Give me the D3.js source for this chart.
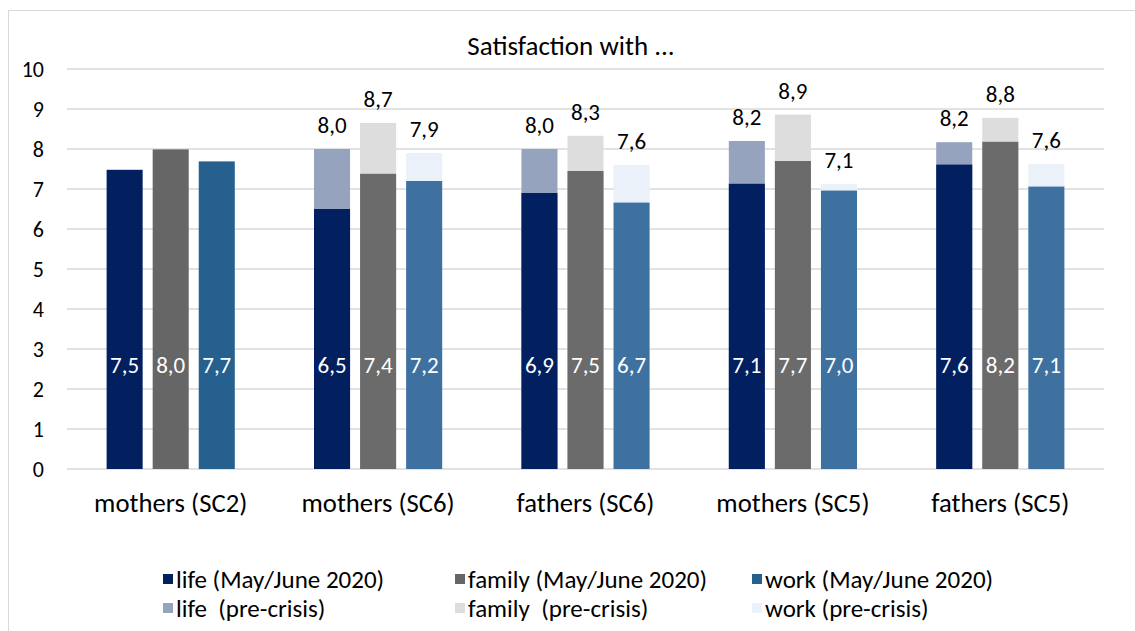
<!DOCTYPE html>
<html>
<head>
<meta charset="utf-8">
<script src="https://cdn.jsdelivr.net/npm/d3@7/dist/d3.min.js"></script>
<style>
  html, body { margin: 0; padding: 0; background: #fff; }
  svg { display: block; }
  text { font-family: Carlito, Calibri, Lato, "Open Sans", sans-serif; white-space: pre; }
</style>
</head>
<body>
<svg id="chart" width="1135" height="631"></svg>
<script>
// ---- data ----
const groups = ["mothers (SC2)", "mothers (SC6)", "fathers (SC6)", "mothers (SC5)", "fathers (SC5)"];
const metrics = ["life", "family", "work"];
const lifeNow   = [7.48, 6.50, 6.90, 7.13, 7.61];
const familyNow = [7.99, 7.38, 7.45, 7.70, 8.18];
const workNow   = [7.69, 7.20, 6.66, 6.96, 7.06];
const lifePre   = [null, 8.00, 8.00, 8.20, 8.17];
const familyPre = [null, 8.65, 8.33, 8.86, 8.78];
const workPre   = [null, 7.90, 7.60, 7.13, 7.63];
const yTicks = [0, 1, 2, 3, 4, 5, 6, 7, 8, 9, 10];
const legendLabels = [
  "life (May/June 2020)", "family (May/June 2020)", "work (May/June 2020)",
  "life  (pre-crisis)", "family  (pre-crisis)", "work (pre-crisis)"
];
const title = "Satisfaction with ...";

// ---- styles ----
const nowColors = { life: "#022060", family: "#6b6b6b", work: "#3e71a0" };
const nowColorsSC2 = { life: "#022060", family: "#666666", work: "#25608f" };
const preColors = { life: "#95a3be", family: "#dddddd", work: "#eaf1f9" };
const legendColors = ["#022060", "#666666", "#25608f", "#95a3be", "#dddddd", "#eaf1f9"];
const FONT = "Carlito, Calibri, Lato, 'Open Sans', sans-serif";

const nowVals = { life: lifeNow, family: familyNow, work: workNow };
const preVals = { life: lifePre, family: familyPre, work: workPre };

const svg = d3.select("#chart");
const fmt = v => d3.format(".1f")(v).replace(".", ",");

// border
svg.append("rect").attr("x", 8.5).attr("y", 10.5).attr("width", 1140).attr("height", 640)
  .attr("fill", "#fff").attr("stroke", "#d9d9d9").attr("stroke-width", 1);

const plotL = 67, plotR = 1104, plotT = 69, plotB = 469;
const y = d3.scaleLinear().domain([0, 10]).range([plotB, plotT]);
const x0 = d3.scaleBand().domain(groups).range([plotL, plotR]).padding(0);
const x1 = d3.scaleBand().domain(metrics).range([0, x0.bandwidth()])
  .paddingInner(10 / 46).paddingOuter(0.86);

// gridlines
svg.append("g").selectAll("line").data(yTicks).join("line")
  .attr("x1", plotL).attr("x2", plotR)
  .attr("y1", d => y(d)).attr("y2", d => y(d))
  .attr("stroke", "#d9d9d9").attr("stroke-width", 1.5);

// y axis labels
const yAxis = d3.axisLeft(y).tickValues(yTicks).tickSize(0).tickPadding(0).tickFormat(d3.format("d"));
const gy = svg.append("g").attr("transform", `translate(${plotL - 23},0)`).call(yAxis);
gy.select(".domain").remove();
gy.selectAll("text").attr("font-size", 22).attr("fill", "#000").style("font-family", FONT);

// x axis labels
const xAxis = d3.axisBottom(x0).tickSize(0).tickPadding(0);
const gx = svg.append("g").attr("transform", `translate(0,503)`).call(xAxis);
gx.select(".domain").remove();
gx.selectAll("text").attr("font-size", 26.7).attr("fill", "#000").attr("y", 0).attr("dy", "0.35em")
  .style("font-family", FONT);

// title
svg.append("text").attr("x", 571).attr("y", 46).attr("dy", "0.35em")
  .attr("text-anchor", "middle").attr("font-size", 27).attr("fill", "#000").text(title);

// bars
const bars = [];
groups.forEach((g, gi) => {
  metrics.forEach(m => {
    bars.push({ g, gi, m, now: nowVals[m][gi], pre: preVals[m][gi] });
  });
});

const gBars = svg.append("g");
// pre-crisis (behind)
gBars.selectAll("rect.pre").data(bars.filter(d => d.pre != null)).join("rect")
  .attr("class", "pre")
  .attr("x", d => x0(d.g) + x1(d.m)).attr("width", x1.bandwidth())
  .attr("y", d => y(d.pre)).attr("height", d => y(0) - y(d.pre))
  .attr("fill", d => preColors[d.m]);
// current
gBars.selectAll("rect.now").data(bars).join("rect")
  .attr("class", "now")
  .attr("x", d => x0(d.g) + x1(d.m)).attr("width", x1.bandwidth())
  .attr("y", d => y(d.now)).attr("height", d => y(0) - y(d.now))
  .attr("fill", d => (d.gi === 0 ? nowColorsSC2 : nowColors)[d.m]);

// labels: current inside
gBars.selectAll("text.now").data(bars).join("text")
  .attr("class", "now")
  .attr("x", d => x0(d.g) + x1(d.m) + x1.bandwidth() / 2)
  .attr("y", y(2.6)).attr("dy", "0.35em")
  .attr("text-anchor", "middle").attr("font-size", 23).attr("fill", "#fff")
  .text(d => fmt(d.now));
// labels: pre-crisis above
gBars.selectAll("text.pre").data(bars.filter(d => d.pre != null)).join("text")
  .attr("class", "pre")
  .attr("x", d => x0(d.g) + x1(d.m) + x1.bandwidth() / 2)
  .attr("y", d => y(d.pre) - 24).attr("dy", "0.35em")
  .attr("text-anchor", "middle").attr("font-size", 23).attr("fill", "#000")
  .text(d => fmt(d.pre));

// legend
const legX = [163, 455, 752];
const legY = [579, 608];
const leg = svg.append("g");
legendLabels.forEach((lab, i) => {
  const cx = legX[i % 3], cy = legY[Math.floor(i / 3)];
  leg.append("rect").attr("x", cx).attr("y", cy - 5).attr("width", 10).attr("height", 10)
    .attr("fill", legendColors[i]);
  leg.append("text").attr("x", cx + 13).attr("y", cy).attr("dy", "0.35em")
    .attr("font-size", 25).attr("fill", "#000").text(lab);
});
</script>
</body>
</html>
